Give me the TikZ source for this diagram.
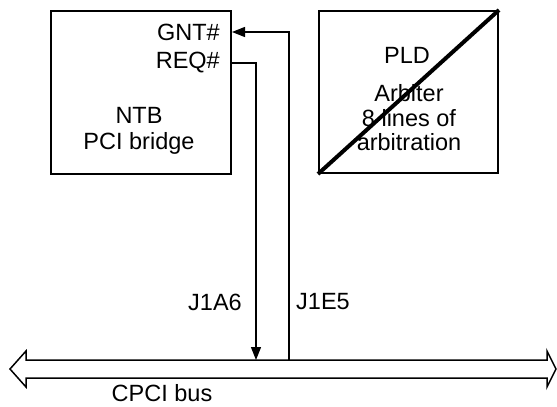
\documentclass[tikz,border=0pt]{standalone}
\usepackage{fontspec}
\setmainfont{Liberation Sans}
\usetikzlibrary{arrows.meta,calc}
\begin{document}
\begin{tikzpicture}[x=1pt,y=-1pt,
  every node/.style={font=\fontsize{23.5}{27}\selectfont, inner sep=0pt},
  block/.style={draw, line width=2pt, anchor=north west},
  wire/.style={line width=1.2pt},
  tip/.style={-{Triangle[length=13pt,width=10pt]}},
  label/.style={anchor=center}]
\useasboundingbox (0,0) rectangle (557,407);

% the two boards
\node[block, minimum width=180pt, minimum height=163pt] (ntb) at (50,10) {};
\node[block, minimum width=179pt, minimum height=162pt] (pld) at (318,10) {};
\draw[line width=4pt] (pld.south west) -- (pld.north east);

% texts inside the bridge
\node[anchor=east] (gnt) at (220,32) {GNT\#};
\node[anchor=east] (req) at (220,63) {REQ\#};
\node (ntbname) at (139,115) {NTB};
\node (ntbsub) at (139,143) {PCI bridge};

% texts inside the arbiter
\node (pldname) at (407,55) {PLD};
\node (arb1) at (409,93) {Arbiter};
\node (arb2) at (409,118) {8 lines of};
\node (arb3) at (409,142) {arbitration};

% the backplane bus
\draw[line width=1.5pt, line join=miter]
  (10,369) -- (26,351) -- (26,360) -- (547,360) -- (547,351) -- (556,369)
  -- (547,387) -- (547,378) -- (26,378) -- (26,387) -- cycle;
\coordinate (reqbus) at (256,360);
\coordinate (gntbus) at (289,360);
\node (busname) at (162,393) {CPCI bus};

% request and grant lines
\coordinate (reqturn) at (256,63);
\coordinate (gntturn) at (289,32);
\draw[wire, tip] ([xshift=12pt]req.east) -- (reqturn) -- (reqbus);
\draw[wire, tip] (gntbus) -- (gntturn) -- ([xshift=12pt]gnt.east |- gntturn);

\node[anchor=east] (j1a6) at (242,302) {J1A6};
\node[anchor=west] (j1e5) at (296,302) {J1E5};
\end{tikzpicture}
\end{document}
